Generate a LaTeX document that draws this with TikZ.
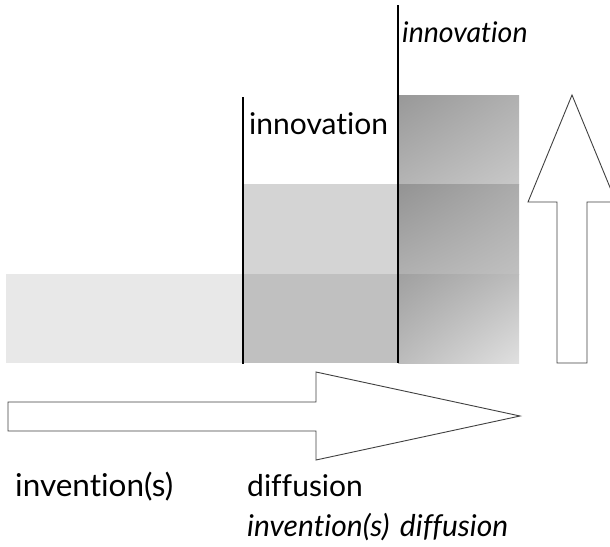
\documentclass[tikz,border=0pt]{standalone}
\usepackage{fontspec}
\setmainfont{Lato}[Ligatures=NoCommon]
\usetikzlibrary{shadings}
\definecolor{bandA}{RGB}{232,232,232}
\definecolor{bandB}{RGB}{212,212,212}
\definecolor{bandC}{RGB}{192,192,192}
\definecolor{tUL}{RGB}{152,152,152}\definecolor{tUR}{RGB}{176,176,176}
\definecolor{tLL}{RGB}{180,180,180}\definecolor{tLR}{RGB}{200,200,200}
\definecolor{mUL}{RGB}{147,147,147}\definecolor{mUR}{RGB}{171,171,171}
\definecolor{mLL}{RGB}{176,176,176}\definecolor{mLR}{RGB}{192,192,192}
\definecolor{bUL}{RGB}{160,160,160}\definecolor{bUR}{RGB}{188,188,188}
\definecolor{bLL}{RGB}{188,188,188}\definecolor{bLR}{RGB}{224,224,224}
\begin{document}
\begin{tikzpicture}[x=1pt,y=-1pt,
  vline/.style={draw=black,line width=1.3pt},
  bigarrow/.style={draw=black!75,fill=white,line width=0.9pt,line join=miter},
  lbl/.style={inner sep=0pt,anchor=base west,font=\fontsize{30}{34}\selectfont},
  ilbl/.style={lbl,font=\fontsize{30}{34}\selectfont\itshape}]
\useasboundingbox (0,0) rectangle (610,546);
\begin{scope}
\clip (0,0) rectangle (610,546);
% bands
\fill[bandA] (6,274) rectangle (519,363);
\fill[bandB] (243,184) rectangle (398,274);
\fill[bandC] (243,274) rectangle (398,363);
\shade[upper left=tUL,upper right=tUR,lower left=tLL,lower right=tLR] (398,95) rectangle (519,184);
\shade[upper left=mUL,upper right=mUR,lower left=mLL,lower right=mLR] (398,184) rectangle (519,274);
\shade[upper left=bUL,upper right=bUR,lower left=bLL,lower right=bLR] (398,274) rectangle (519,363);
% vertical lines
\coordinate (l1t) at (243,97);  \coordinate (l1b) at (243,364);
\coordinate (l2t) at (398,5);   \coordinate (l2b) at (398,363);
\draw[vline] (l1t) -- (l1b);
\draw[vline] (l2t) -- (l2b);
% arrows
\draw[bigarrow] (572,95) -- (616,202) -- (587,202) -- (587,363) -- (557,363) -- (557,202) -- (528,202) -- cycle;
\draw[bigarrow] (8,402) -- (316,402) -- (316,372) -- (520,416) -- (316,460) -- (316,431) -- (8,431) -- cycle;
% labels
\node[lbl] (inno) at (249,134) {innovation};
\node[ilbl,font=\fontsize{28.5}{32}\selectfont\itshape] (inno2) at (402,42) {innovation};
\node[lbl,font=\fontsize{31.5}{34}\selectfont] (inv) at (15,496) {invention(s)};
\node[lbl] (diff) at (247,496) {diffusion};
\node[ilbl] (inv2) at (247,536) {invention(s)\hspace{0.35em}diffusion};
\end{scope}
\end{tikzpicture}
\end{document}
